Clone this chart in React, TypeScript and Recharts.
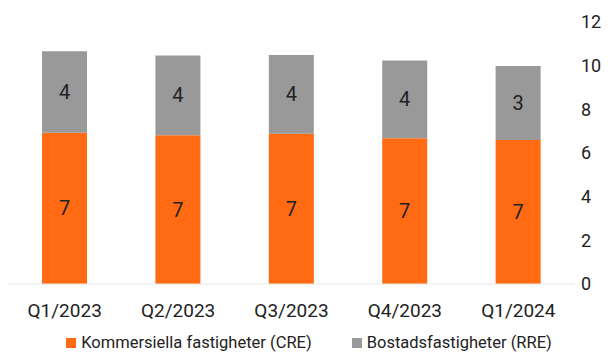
import { BarChart, Bar, XAxis, YAxis, Legend, LabelList } from 'recharts'

const QUARTERS = ['Q1/2023', 'Q2/2023', 'Q3/2023', 'Q4/2023', 'Q1/2024']
const CRE = [6.93, 6.81, 6.88, 6.67, 6.59]
const RRE = [3.73, 3.66, 3.61, 3.57, 3.4]
const Y_TICKS = [0, 2, 4, 6, 8, 10, 12]

const ORANGE = '#ff6a13'
const GRAY = '#999999'
const FONT = 'Roboto, sans-serif'

const data = QUARTERS.map((q, i) => ({ q, cre: CRE[i], rre: RRE[i] }))

const round = (v: unknown) => Math.round(Number(v))

function LegendBox() {
  const items = [
    { label: 'Kommersiella fastigheter (CRE)', color: ORANGE },
    { label: 'Bostadsfastigheter (RRE)', color: GRAY },
  ]
  return (
    <div style={{ display: 'flex', justifyContent: 'center', gap: 40, fontFamily: FONT, fontSize: 16.5, color: '#222' }}>
      {items.map((it) => (
        <span key={it.label} style={{ display: 'flex', alignItems: 'center' }}>
          <span style={{ width: 10, height: 10, background: it.color, marginRight: 5, display: 'inline-block' }} />
          {it.label}
        </span>
      ))}
    </div>
  )
}

export default function App() {
  return (
    <div style={{ position: 'absolute', left: 0, top: 0, background: '#fff' }}>
      <BarChart
        width={610}
        height={352}
        data={data}
        margin={{ top: 22, right: 0, bottom: 0, left: 8 }}
        barCategoryGap="30%"
      >
        <XAxis
          dataKey="q"
          axisLine={{ stroke: '#e6e6e6' }}
          tickLine={false}
          tick={{ fill: '#222', fontSize: 19, fontFamily: FONT }}
          tickMargin={14}
          height={49}
        />
        <YAxis
          orientation="right"
          domain={[0, 12]}
          ticks={Y_TICKS}
          axisLine={false}
          tickLine={false}
          width={35}
          tick={{ fill: '#222', fontSize: 18, fontFamily: FONT, textAnchor: 'start' }}
          tickMargin={0}
          interval={0}
        />
        <Legend verticalAlign="bottom" content={() => <LegendBox />} wrapperStyle={{ bottom: 0 }} />
        <Bar dataKey="cre" stackId="a" fill={ORANGE} isAnimationActive={false}>
          <LabelList dataKey="cre" position="center" formatter={round} fill="#222" fontSize={20} fontFamily={FONT} />
        </Bar>
        <Bar dataKey="rre" stackId="a" fill={GRAY} isAnimationActive={false}>
          <LabelList dataKey="rre" position="center" formatter={round} fill="#222" fontSize={20} fontFamily={FONT} />
        </Bar>
      </BarChart>
    </div>
  )
}
